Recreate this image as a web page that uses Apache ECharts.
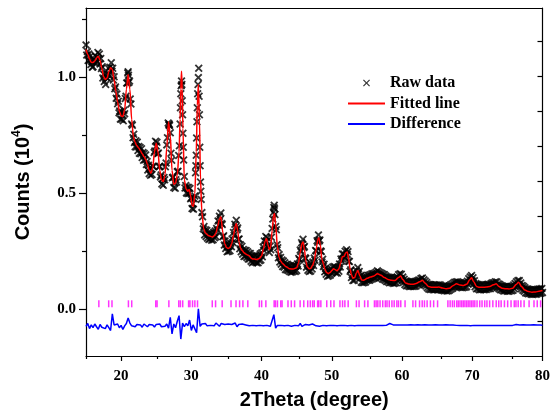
<!DOCTYPE html>
<html><head><meta charset="utf-8">
<script src="https://cdn.jsdelivr.net/npm/echarts@6/dist/echarts.min.js"></script>
<style>html,body{margin:0;padding:0;background:#fff}#c{width:553px;height:418px}</style>
</head><body><div id="c"></div>
<script>
// ---- data (2Theta in degree, counts in 10^4) ----
const fittedLine = [
[15.00,1.121],[15.25,1.10],[15.50,1.08],[15.75,1.066],[16.00,1.065],[16.25,1.072],[16.50,1.085],[16.75,1.092],
[17.00,1.075],[17.25,1.04],[17.50,1.005],[17.75,0.992],[18.00,0.998],[18.25,1.025],[18.50,1.042],[18.75,1.035],
[19.00,0.99],[19.25,0.94],[19.50,0.895],[19.75,0.855],[20.00,0.835],[20.25,0.832],[20.50,0.86],[20.75,0.95],
[21.00,1.013],[21.25,0.95],[21.50,0.82],[21.75,0.746],[22.00,0.72],[22.25,0.706],[22.50,0.697],[22.75,0.685],
[23.00,0.672],[23.25,0.66],[23.50,0.648],[23.75,0.625],[24.00,0.60],[24.25,0.588],[24.50,0.61],[24.75,0.68],
[25.00,0.717],[25.25,0.68],[25.50,0.60],[25.75,0.56],[26.00,0.552],[26.25,0.58],[26.50,0.70],[26.75,0.81],
[27.00,0.75],[27.25,0.60],[27.50,0.54],[27.75,0.545],[28.00,0.58],[28.25,0.68],[28.40,0.82],[28.50,0.95],
[28.60,1.027],[28.70,0.95],[28.80,0.78],[29.00,0.56],[29.25,0.52],[29.50,0.51],[29.70,0.518],[29.90,0.49],
[30.10,0.45],[30.30,0.445],[30.50,0.50],[30.70,0.68],[30.85,0.88],[31.00,0.97],[31.15,0.82],[31.30,0.56],
[31.50,0.42],[31.75,0.35],[32.00,0.33],[32.50,0.318],[33.00,0.313],[33.25,0.318],[33.50,0.33],[33.75,0.36],
[34.00,0.39],[34.20,0.40],[34.50,0.33],[34.75,0.285],[35.00,0.268],[35.25,0.263],[35.50,0.268],[35.75,0.285],
[36.00,0.32],[36.25,0.36],[36.40,0.371],[36.60,0.34],[36.80,0.29],[37.00,0.265],[37.25,0.255],[37.50,0.245],
[37.75,0.24],[38.00,0.235],[38.25,0.232],[38.50,0.222],[38.75,0.218],[39.00,0.218],[39.25,0.216],[39.50,0.218],
[39.75,0.222],[40.00,0.232],[40.25,0.26],[40.50,0.295],[40.70,0.306],[40.90,0.28],[41.10,0.258],[41.30,0.27],
[41.50,0.34],[41.70,0.405],[41.85,0.414],[42.00,0.37],[42.25,0.27],[42.50,0.225],[42.75,0.208],[43.00,0.198],
[43.50,0.185],[44.00,0.176],[44.50,0.175],[45.00,0.18],[45.25,0.20],[45.50,0.245],[45.75,0.285],[45.90,0.291],
[46.10,0.26],[46.30,0.21],[46.50,0.185],[46.75,0.176],[47.00,0.178],[47.25,0.19],[47.50,0.21],[47.75,0.255],
[48.00,0.30],[48.15,0.31],[48.35,0.28],[48.60,0.215],[48.80,0.198],[49.00,0.175],[49.25,0.16],[49.50,0.155],
[49.75,0.16],[50.00,0.168],[50.25,0.176],[50.50,0.172],[50.75,0.167],[51.00,0.175],[51.25,0.20],[51.50,0.228],
[51.75,0.23],[52.00,0.245],[52.20,0.248],[52.40,0.22],[52.60,0.175],[52.80,0.15],[53.00,0.135],[53.25,0.138],
[53.50,0.158],[53.70,0.169],[54.00,0.145],[54.25,0.128],[54.50,0.126],[54.75,0.13],[55.00,0.135],[55.50,0.14],
[56.00,0.145],[56.50,0.155],[57.00,0.148],[57.50,0.138],[58.00,0.13],[58.50,0.126],[59.00,0.125],[59.50,0.138],
[59.80,0.145],[60.10,0.13],[60.50,0.115],[61.00,0.11],[61.50,0.109],[62.00,0.112],[62.50,0.12],[62.90,0.126],
[63.25,0.115],[63.75,0.10],[64.25,0.096],[64.75,0.096],[65.25,0.097],[65.75,0.093],[66.25,0.09],[66.75,0.092],
[67.25,0.103],[67.75,0.111],[68.25,0.106],[68.75,0.104],[69.25,0.11],[69.60,0.128],[69.90,0.137],[70.20,0.12],
[70.60,0.10],[71.00,0.096],[71.50,0.096],[72.00,0.097],[72.50,0.10],[73.00,0.107],[73.40,0.111],[73.80,0.10],
[74.25,0.092],[74.75,0.09],[75.25,0.089],[75.75,0.092],[76.25,0.108],[76.60,0.118],[77.00,0.10],[77.50,0.084],
[78.00,0.078],[78.50,0.075],[79.00,0.076],[79.50,0.079],[80.00,0.082]
];

// raw observed counts, every 0.1 degree from 15.0 to 80.0 (one row per degree)
const rawStart = 15, rawStep = 0.1;
const rawCounts = [
1.141,1.097,1.112,1.074,1.102,1.074,1.092,1.056,1.070,1.045, // 15
1.047,1.079,1.064,1.095,1.066,1.089,1.069,1.108,1.081,1.102, // 16
1.059,1.082,1.039,1.047,0.998,1.015,0.983,1.011,0.970,1.000, // 17
1.014,0.996,1.040,1.012,1.045,1.028,1.064,1.028,1.040,0.990, // 18
1.004,0.952,0.960,0.911,0.929,0.887,0.898,0.848,0.856,0.821, // 19
0.853,0.820,0.837,0.814,0.859,0.844,0.910,0.920,0.977,0.977, // 20
1.025,0.979,0.985,0.908,0.886,0.800,0.795,0.741,0.756,0.720, // 21
0.702,0.728,0.701,0.722,0.686,0.703,0.674,0.699,0.672,0.693, // 22
0.656,0.677,0.644,0.673,0.646,0.666,0.625,0.638,0.602,0.622, // 23
0.586,0.610,0.579,0.607,0.582,0.618,0.617,0.677,0.684,0.726, // 24
0.705,0.721,0.672,0.675,0.616,0.618,0.572,0.580,0.541,0.563, // 25
0.536,0.569,0.560,0.616,0.632,0.710,0.741,0.804,0.796,0.794, // 26
0.762,0.674,0.644,0.568,0.571,0.526,0.548,0.523,0.560,0.550, // 27
0.594,0.596,0.664,0.706,0.800,0.930,0.985,0.900,0.760,0.645, // 28
0.574,0.524,0.535,0.503,0.528,0.500,0.526,0.502,0.522,0.478, // 29
0.482,0.436,0.456,0.433,0.478,0.490,0.590,0.665,0.810,0.930, // 30
1.000,0.920,0.700,0.550,0.475,0.418,0.400,0.348,0.358,0.322, // 31
0.344,0.315,0.341,0.308,0.328,0.302,0.329,0.305,0.330,0.299, // 32
0.325,0.301,0.333,0.310,0.339,0.314,0.350,0.341,0.382,0.364, // 33
0.402,0.388,0.416,0.371,0.367,0.314,0.318,0.278,0.296,0.263, // 34
0.282,0.249,0.273,0.251,0.281,0.254,0.286,0.271,0.304,0.289, // 35
0.332,0.321,0.368,0.356,0.385,0.344,0.352,0.303,0.304,0.262, // 36
0.279,0.249,0.273,0.239,0.259,0.229,0.255,0.231,0.255,0.225, // 37
0.249,0.218,0.243,0.218,0.242,0.208,0.232,0.202,0.228,0.206, // 38
0.232,0.205,0.232,0.202,0.227,0.202,0.231,0.211,0.240,0.214, // 39
0.244,0.228,0.270,0.256,0.296,0.279,0.315,0.296,0.310,0.268, // 40
0.279,0.246,0.273,0.258,0.312,0.350,0.390,0.420,0.450,0.410, // 41
0.358,0.344,0.280,0.267,0.223,0.237,0.205,0.225,0.196,0.214, // 42
0.186,0.209,0.183,0.202,0.173,0.195,0.171,0.195,0.169,0.189, // 43
0.164,0.188,0.161,0.185,0.163,0.189,0.166,0.189,0.164,0.189, // 44
0.168,0.197,0.188,0.220,0.215,0.257,0.250,0.288,0.281,0.303, // 45
0.268,0.272,0.223,0.220,0.183,0.197,0.170,0.189,0.164,0.187, // 46
0.166,0.192,0.175,0.205,0.190,0.222,0.213,0.255,0.253,0.297, // 47
0.290,0.322,0.296,0.300,0.253,0.250,0.205,0.217,0.186,0.196, // 48
0.163,0.178,0.152,0.170,0.144,0.165,0.146,0.170,0.149,0.175, // 49
0.158,0.183,0.163,0.186,0.164,0.184,0.158,0.177,0.158,0.183, // 50
0.165,0.197,0.184,0.218,0.210,0.240,0.218,0.240,0.223,0.252, // 51
0.233,0.258,0.238,0.250,0.208,0.207,0.165,0.172,0.138,0.151, // 52
0.125,0.146,0.126,0.152,0.138,0.168,0.155,0.181,0.153,0.164, // 53
0.135,0.147,0.118,0.137,0.116,0.138,0.117,0.139,0.119,0.143, // 54
0.125,0.148,0.127,0.148,0.127,0.150,0.131,0.154,0.133,0.154, // 55
0.135,0.157,0.137,0.161,0.143,0.167,0.144,0.162,0.139,0.159, // 56
0.138,0.156,0.132,0.152,0.130,0.150,0.126,0.145,0.121,0.141, // 57
0.120,0.139,0.116,0.138,0.117,0.138,0.116,0.135,0.113,0.135, // 58
0.115,0.136,0.116,0.141,0.124,0.150,0.132,0.154,0.133,0.152, // 59
0.126,0.140,0.117,0.131,0.108,0.123,0.103,0.122,0.103,0.120, // 60
0.100,0.118,0.100,0.119,0.101,0.119,0.100,0.118,0.101,0.121, // 61
0.102,0.123,0.107,0.126,0.108,0.128,0.112,0.134,0.117,0.136, // 62
0.114,0.129,0.107,0.123,0.102,0.117,0.094,0.109,0.089,0.108, // 63
0.087,0.107,0.088,0.106,0.086,0.104,0.086,0.106,0.088,0.106, // 64
0.086,0.105,0.087,0.107,0.088,0.105,0.084,0.101,0.083,0.102, // 65
0.081,0.100,0.082,0.100,0.080,0.099,0.081,0.102,0.085,0.106, // 66
0.089,0.109,0.092,0.114,0.098,0.118,0.100,0.119,0.101,0.120, // 67
0.098,0.117,0.098,0.116,0.095,0.113,0.094,0.114,0.096,0.115, // 68
0.096,0.115,0.099,0.122,0.109,0.133,0.118,0.141,0.126,0.147, // 69
0.123,0.137,0.112,0.124,0.098,0.112,0.090,0.109,0.090,0.107, // 70
0.086,0.104,0.086,0.106,0.088,0.106,0.086,0.104,0.087,0.107, // 71
0.087,0.108,0.090,0.109,0.090,0.108,0.091,0.113,0.096,0.116, // 72
0.097,0.116,0.099,0.120,0.103,0.119,0.096,0.111,0.090,0.108, // 73
0.086,0.104,0.085,0.102,0.081,0.099,0.080,0.100,0.082,0.100, // 74
0.079,0.097,0.079,0.099,0.081,0.100,0.081,0.100,0.083,0.106, // 75
0.090,0.113,0.098,0.120,0.104,0.125,0.108,0.125,0.102,0.115, // 76
0.090,0.104,0.083,0.100,0.079,0.094,0.072,0.089,0.070,0.089, // 77
0.068,0.087,0.069,0.086,0.066,0.083,0.065,0.085,0.067,0.086, // 78
0.066,0.085,0.067,0.088,0.070,0.089,0.070,0.088,0.071,0.091, // 79
0.074                                                        // 80
];
// additional raw points recorded on the steep flanks of the sharp reflections
const rawPeakPoints = [[20.95,1.02],[21.05,1.01],[26.85,0.80],[28.45,0.87],[28.55,0.965],[28.65,0.97],[28.75,0.84],
[28.85,0.70],[30.65,0.62],[30.75,0.74],[30.85,0.87],[30.95,0.97],[31.05,1.04],[31.15,0.84],[31.25,0.62],
[31.35,0.51],[41.75,0.44],[41.85,0.435]];

// difference curve, sampled every 0.25 degree from 15 to 80
const diffStart = 15, diffStep = 0.25;
const difference = [
-0.072,-0.060,-0.082,-0.066,-0.078,-0.062,-0.074,-0.085,-0.064,-0.076,-0.068,-0.082,-0.066,-0.078,-0.090,-0.018,-0.066,-0.074,-0.062,-0.078,
-0.068,-0.086,-0.070,-0.060,-0.036,-0.058,-0.070,-0.062,-0.074,-0.064,-0.072,-0.066,-0.076,-0.062,-0.070,-0.074,-0.064,-0.072,-0.066,-0.075,
-0.064,-0.070,-0.062,-0.074,-0.066,-0.072,-0.062,-0.080,-0.033,-0.105,-0.062,-0.078,-0.050,-0.026,-0.127,-0.058,-0.074,-0.060,-0.070,-0.045,
-0.090,-0.066,-0.058,-0.100,0.003,-0.072,-0.062,-0.068,-0.060,-0.070,-0.064,-0.068,-0.062,-0.070,-0.058,-0.066,-0.072,-0.060,-0.068,-0.064,
-0.070,-0.062,-0.068,-0.064,-0.070,-0.058,-0.074,-0.064,-0.068,-0.062,-0.070,-0.066,-0.064,-0.070,-0.062,-0.068,-0.066,-0.070,-0.064,-0.068,
-0.062,-0.070,-0.064,-0.068,-0.066,-0.072,-0.064,-0.022,-0.080,-0.068,-0.064,-0.068,-0.066,-0.070,-0.064,-0.068,-0.066,-0.072,-0.064,-0.068,
-0.066,-0.070,-0.060,-0.072,-0.066,-0.064,-0.070,-0.066,-0.068,-0.062,-0.066,-0.070,-0.062,-0.072,-0.066,-0.068,-0.064,-0.070,-0.066,-0.068,
-0.064,-0.068,-0.066,-0.070,-0.064,-0.068,-0.062,-0.068,-0.066,-0.070,-0.064,-0.068,-0.066,-0.070,-0.065,-0.068,-0.066,-0.069,-0.065,-0.068,
-0.066,-0.069,-0.065,-0.068,-0.066,-0.069,-0.064,-0.068,-0.066,-0.069,-0.066,-0.068,-0.064,-0.060,-0.058,-0.066,-0.068,-0.066,-0.070,-0.066,
-0.068,-0.066,-0.069,-0.066,-0.068,-0.065,-0.068,-0.066,-0.069,-0.065,-0.068,-0.066,-0.068,-0.065,-0.068,-0.066,-0.069,-0.066,-0.068,-0.065,
-0.068,-0.066,-0.069,-0.066,-0.068,-0.065,-0.068,-0.066,-0.069,-0.066,-0.063,-0.068,-0.066,-0.069,-0.066,-0.068,-0.065,-0.068,-0.064,-0.070,
-0.066,-0.068,-0.065,-0.068,-0.066,-0.069,-0.066,-0.068,-0.065,-0.068,-0.066,-0.069,-0.066,-0.068,-0.064,-0.069,-0.066,-0.068,-0.066,-0.069,
-0.066,-0.068,-0.065,-0.068,-0.066,-0.064,-0.069,-0.066,-0.068,-0.065,-0.068,-0.066,-0.069,-0.066,-0.068,-0.065,-0.068,-0.066,-0.069,-0.066,
-0.068
];

// Bragg reflection positions (2Theta) shown as magenta bars
const braggPositions = [16.83,18.23,18.70,21.04,21.51,24.93,25.12,26.80,28.21,28.44,28.77,29.61,29.80,30.17,30.50,30.88,
32.98,33.45,34.39,35.65,36.36,36.87,37.34,38.04,39.68,40.01,40.61,41.79,41.98,42.26,42.73,42.92,43.76,44.23,44.70,
45.49,46.01,46.57,46.94,47.27,47.50,47.98,48.15,48.44,49.28,49.85,50.31,51.16,51.53,51.86,52.33,53.50,53.88,54.67,
55.14,56.07,56.31,56.55,56.87,57.25,57.62,57.86,58.18,58.56,58.88,59.26,59.50,59.82,60.43,61.55,61.93,62.49,62.87,
63.19,63.57,64.04,64.50,65.06,66.53,66.85,67.17,67.45,67.79,68.01,68.25,68.49,68.72,68.95,69.19,69.42,69.66,69.89,
70.12,70.36,70.68,71.06,71.39,71.77,72.09,72.47,72.93,73.41,73.77,74.11,74.58,75.04,75.52,75.98,76.22,76.54,76.92,
77.38,78.09,78.79,79.25,79.73];
const braggLevel = 0.025;

const xTicks = [20,30,40,50,60,70,80];
const xMinorTicks = [15,25,35,45,55,65,75];
const yTicks = [0,0.5,1.0];
const yMinorTicks = [0.25,0.75,1.25];
const rightTicks = [-1,0,1,2,3,4,5,6,7];

// ---- chart ----
const rawData = rawCounts.map((v,i)=>[+(rawStart + i*rawStep).toFixed(2), v]).concat(rawPeakPoints);
const diffData = difference.map((v,i)=>[diffStart + i*diffStep, v]);
const braggData = braggPositions.map(p=>[p, braggLevel]);
const crossPath = 'path://M0,1.6L1.6,0L5,3.4L8.4,0L10,1.6L6.6,5L10,8.4L8.4,10L5,6.6L1.6,10L0,8.4L3.4,5Z';
const legendCross = 'path://M0,1.2L1.2,0L5,3.8L8.8,0L10,1.2L6.2,5L10,8.8L8.8,10L5,6.2L1.2,10L0,8.8L3.8,5Z';
const serif = 'Liberation Serif';
const sans = 'Liberation Sans';
const gridRect = {left:86, right:5, top:8, bottom:62};
const lineStyle = {color:'#000', width:1.2};

const chart = echarts.init(document.getElementById('c'), null, {renderer:'canvas'});
chart.setOption({
  animation:false,
  backgroundColor:'#fff',
  grid:[Object.assign({}, gridRect), Object.assign({}, gridRect)],
  legend:{
    orient:'vertical', left:347, top:75, padding:0, itemWidth:37, itemHeight:7, itemGap:4.5,
    textStyle:{fontFamily:serif, fontWeight:'bold', fontSize:16, color:'#000'},
    data:[
      {name:'Raw data', icon:legendCross},
      {name:'Fitted line', itemStyle:{opacity:0}},
      {name:'Difference', itemStyle:{opacity:0}}
    ]
  },
  xAxis:[
    {type:'value', gridIndex:0, min:15, max:80, position:'bottom',
     axisLine:{show:true, onZero:false, lineStyle},
     axisTick:{show:true, inside:false, length:5, customValues:xTicks, lineStyle},
     axisLabel:{show:true, customValues:xTicks, margin:13, color:'#000',
       fontFamily:serif, fontWeight:'bold', fontSize:15, formatter:v=>String(Math.round(v))},
     splitLine:{show:false},
     name:'2Theta (degree)', nameLocation:'middle', nameGap:34,
     nameTextStyle:{fontFamily:sans, fontWeight:'bold', fontSize:20, color:'#000'}},
    {type:'value', gridIndex:0, min:15, max:80, position:'top',
     axisLine:{show:true, onZero:false, lineStyle},
     axisTick:{show:false}, axisLabel:{show:false}, splitLine:{show:false}},
    {type:'value', gridIndex:1, min:15, max:80, position:'bottom',
     axisLine:{show:false, onZero:false},
     axisTick:{show:true, inside:false, length:3, customValues:xMinorTicks, lineStyle},
     axisLabel:{show:false}, splitLine:{show:false}}
  ],
  yAxis:[
    {type:'value', gridIndex:0, min:-0.2, max:1.3, position:'left',
     axisLine:{show:true, onZero:false, lineStyle},
     axisTick:{show:true, inside:false, length:7, customValues:yTicks, lineStyle},
     axisLabel:{show:true, customValues:yTicks, margin:10, color:'#000',
       fontFamily:serif, fontWeight:'bold', fontSize:15, formatter:v=>v.toFixed(1)},
     splitLine:{show:false},
     name:'{t|Counts (10}{s|4}{t|)}', nameLocation:'middle', nameGap:51, nameRotate:90,
     nameTextStyle:{rich:{
       t:{fontFamily:sans, fontWeight:'bold', fontSize:20, color:'#000', lineHeight:24},
       s:{fontFamily:sans, fontWeight:'bold', fontSize:12, color:'#000', verticalAlign:'top', lineHeight:14}
     }}},
    {type:'value', gridIndex:0, min:-2, max:7.94, position:'right',
     axisLine:{show:true, onZero:false, lineStyle},
     axisTick:{show:true, inside:true, length:5, customValues:rightTicks, lineStyle},
     axisLabel:{show:false}, splitLine:{show:false}},
    {type:'value', gridIndex:1, min:-0.2, max:1.3, position:'left',
     axisLine:{show:false, onZero:false},
     axisTick:{show:true, inside:false, length:4, customValues:yMinorTicks, lineStyle},
     axisLabel:{show:false}, splitLine:{show:false}}
  ],
  series:[
    {name:'Raw data', type:'scatter', xAxisIndex:0, yAxisIndex:0, data:rawData,
     symbol:crossPath, symbolSize:8, itemStyle:{color:'#000'}, z:2, silent:true, large:false},
    {name:'Fitted line', type:'line', xAxisIndex:0, yAxisIndex:0, data:fittedLine,
     showSymbol:false, symbol:'none', smooth:0.3, smoothMonotone:'x',
     lineStyle:{color:'#ff0000', width:1.5}, itemStyle:{color:'#ff0000'}, z:3, silent:true},
    {name:'Difference', type:'line', xAxisIndex:0, yAxisIndex:0, data:diffData,
     showSymbol:false, symbol:'none',
     lineStyle:{color:'#0000ff', width:1.5}, itemStyle:{color:'#0000ff'}, z:3, silent:true},
    {name:'Bragg positions', type:'scatter', xAxisIndex:0, yAxisIndex:0, data:braggData,
     symbol:'rect', symbolSize:[1.5,7], itemStyle:{color:'#ff00ff'}, z:2, silent:true}
  ]
});
</script>
</body></html>
